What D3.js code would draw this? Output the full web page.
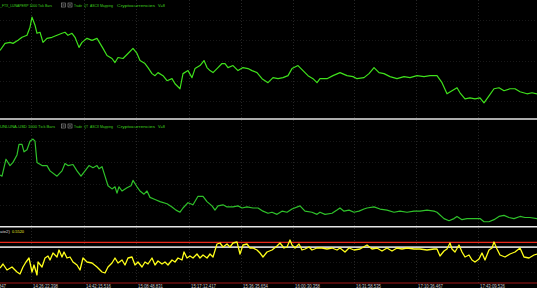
<!DOCTYPE html>
<html>
<head>
<meta charset="utf-8">
<script src="https://cdn.jsdelivr.net/npm/d3@7"></script>
<style>
    html, body { margin: 0; padding: 0; background: #000; overflow: hidden; }
    svg { display: block; }
</style>
</head>
<body>
<div id="chart"></div>
<script>
// FTX_LUNAPERP 1000 tick bars (bar number, close).
var ftxBars = [0,5,10,13,18,22,27,30,32,35,37,40,43,47,52,57,62,65,68,72,75,79,82,87,92,97,100,103,107,112,115,118,123,128,133,137,140,145,148,152,155,158,163,167,172,175,180,183,188,192,195,200,204,207,210,213,217,222,225,228,233,238,243,248,252,257,262,268,273,278,283,288,292,298,303,308,313,317,320,327,333,340,347,353,357,364,369,374,379,384,390,397,404,410,417,424,430,437,442,447,452,457,460,465,470,475,480,484,489,494,499,504,510,515,520,527,532,537];
var ftxClose = [87.50,87.85,87.90,87.85,88.00,88.15,88.25,88.65,89.15,88.75,88.35,88.40,87.90,88.10,88.15,88.25,88.35,88.40,88.25,88.35,88.15,87.65,87.90,88.10,88.00,88.10,87.85,87.60,87.25,87.10,86.90,87.15,87.10,87.35,87.60,87.35,87.00,86.85,86.65,86.35,86.25,86.40,86.25,86.00,86.10,85.85,85.60,86.35,86.50,86.15,86.60,86.75,87.00,86.65,86.50,86.40,86.60,86.85,86.85,86.65,86.75,86.50,86.65,86.60,86.50,86.40,86.10,85.90,86.15,86.10,86.15,86.25,86.60,86.75,86.50,86.25,86.10,85.90,86.10,86.10,86.25,86.40,86.25,86.20,86.10,86.15,86.35,86.65,86.40,86.35,86.20,86.10,86.20,86.15,86.25,86.20,86.25,86.25,85.90,85.35,85.50,85.65,85.40,85.10,85.15,85.10,85.15,84.90,85.25,85.60,85.65,85.50,85.60,85.60,85.45,85.35,85.40,85.35];

// LUNA-USD 1000 tick bars (bar number, close).
var usdBars = [0,2,6,10,13,17,19,22,24,27,30,33,35,37,42,47,50,57,62,65,68,73,77,81,85,89,93,97,99,102,105,108,112,115,117,119,122,127,131,133,137,140,144,147,150,155,160,167,172,176,180,183,188,193,198,203,207,212,215,218,223,227,233,238,242,247,253,258,263,268,272,277,282,287,292,300,305,312,317,320,325,332,337,340,344,349,354,359,364,367,374,380,387,394,400,407,414,420,427,434,437,444,449,454,457,462,467,472,477,480,484,489,494,499,504,509,514,520,525,530,537];
var usdClose = [87.40,87.35,88.15,87.85,88.00,88.35,88.85,88.85,88.50,88.60,89.00,89.10,89.00,88.00,87.85,87.85,87.60,87.35,87.60,87.95,87.85,87.90,87.60,87.35,87.60,87.85,87.75,87.85,87.70,87.80,87.35,86.90,86.75,86.85,86.55,86.85,86.65,86.80,86.90,87.15,86.85,86.65,86.50,86.65,86.35,86.25,86.15,86.05,85.90,85.75,85.65,85.85,86.10,86.00,86.40,86.40,86.15,85.95,85.75,85.95,86.00,85.90,85.90,85.95,85.85,85.90,85.85,85.85,85.70,85.60,85.65,85.55,85.70,85.65,85.80,85.95,85.70,85.65,85.55,85.65,85.55,85.60,85.75,85.85,85.70,85.75,85.65,85.70,85.80,85.85,85.90,85.80,85.75,85.65,85.70,85.65,85.70,85.70,85.75,85.70,85.65,85.35,85.25,85.35,85.45,85.30,85.35,85.35,85.35,85.35,85.20,85.20,85.30,85.45,85.50,85.40,85.35,85.45,85.40,85.40,85.35];

// Correlate2 indicator (bar number, value) and its two levels.
var corrBars = [0,3,7,12,17,20,23,26,29,32,34,37,38,42,45,48,50,53,57,59,62,64,67,70,73,77,80,83,87,92,97,102,105,108,112,115,118,122,125,128,132,135,138,142,145,148,152,155,158,162,165,168,172,175,178,182,184,187,190,193,197,200,203,207,210,213,217,220,223,227,230,233,237,240,243,247,250,253,257,260,263,267,272,277,280,284,287,290,292,295,299,302,305,309,312,317,322,327,332,337,340,345,349,354,360,367,372,377,382,387,392,397,402,407,414,420,427,434,437,440,444,447,450,452,455,459,462,465,469,472,475,479,482,485,489,492,494,497,500,505,510,515,520,524,529,534,537];
var corrValue = [0.350,0.450,0.300,0.375,0.250,0.200,0.375,0.500,0.600,0.250,0.425,0.175,0.500,0.375,0.600,0.650,0.550,0.725,0.625,0.800,0.625,0.750,0.600,0.625,0.500,0.425,0.300,0.600,0.500,0.475,0.375,0.250,0.225,0.375,0.475,0.600,0.475,0.550,0.425,0.600,0.625,0.425,0.500,0.375,0.500,0.450,0.600,0.425,0.525,0.450,0.500,0.425,0.550,0.500,0.600,0.550,0.750,0.600,0.650,0.600,0.700,0.600,0.675,0.600,0.700,0.625,0.950,0.975,0.875,0.950,0.875,0.975,1.000,0.700,0.925,0.950,0.850,0.850,0.800,0.725,0.625,0.750,0.800,0.900,0.975,0.850,0.875,1.050,0.925,0.850,0.950,0.800,0.825,0.875,0.800,0.850,0.850,0.825,0.850,0.800,0.850,0.750,0.850,0.800,0.825,0.925,0.825,0.850,0.775,0.850,0.775,0.850,0.825,0.850,0.825,0.825,0.800,0.825,0.825,0.650,0.775,0.825,0.975,0.825,0.750,0.925,0.750,0.625,0.675,0.550,0.500,0.575,0.725,0.550,0.800,0.850,1.000,0.825,0.675,0.625,0.700,0.750,0.850,0.625,0.600,0.675,0.700];
var corrLevels = [0.99, 0.87];
var corrLast = "0.5520";

// Time axis.
var timeBars = [-21,31,84,136,189,241,293,354,416,478];
var timeLabels = ["14:11:03.847","14:26:22.398","14:42:15.516","15:08:48.831","15:17:12.417","15:36:35.654","16:00:30.358","16:31:58.535","17:10:36.467","17:43:09.526"];

function tickChart(domTarget) {
    var _width = 537;
    var _height = 288;
    var _font = "'Liberation Sans', Arial, sans-serif";

    var _panels = [
        { id: 'p1', top: 0, bottom: 118, domain: [84.15, 90], ticks: [85, 86, 87, 88, 89] },
        { id: 'p2', top: 120, bottom: 226, domain: [85.0, 90.0], ticks: [86, 87, 88, 89] },
        { id: 'p3', top: 228, bottom: 282, domain: [0, 1.35], ticks: [0.25, 0.5] }
    ];

    var x = d3.scaleLinear().domain([0, 537]).range([0, _width]);

    var svg = d3.select(domTarget).append('svg')
        .attr('width', _width)
        .attr('height', _height);

    svg.append('rect').attr('width', _width).attr('height', _height).attr('fill', '#000');

    var defs = svg.append('defs');

    _panels.forEach(function(p) {
        p.y = d3.scaleLinear().domain(p.domain).range([p.bottom, p.top]);
        defs.append('clipPath').attr('id', 'clip-' + p.id)
            .append('rect')
            .attr('x', 0).attr('y', p.top)
            .attr('width', _width).attr('height', p.bottom - p.top);

        // Horizontal dotted grid.
        svg.append('g').selectAll('line')
            .data(p.ticks)
            .enter().append('line')
            .attr('x1', 0).attr('x2', _width)
            .attr('y1', d => Math.round(p.y(d)) + 0.5)
            .attr('y2', d => Math.round(p.y(d)) + 0.5)
            .attr('stroke', '#181818')
            .attr('stroke-dasharray', '1,2');
    });

    // Vertical dotted grid through all panels.
    svg.append('g').selectAll('line')
        .data(timeBars)
        .enter().append('line')
        .attr('x1', d => Math.round(x(d)) + 0.5)
        .attr('x2', d => Math.round(x(d)) + 0.5)
        .attr('y1', 0).attr('y2', 283)
        .attr('stroke', '#262626')
        .attr('stroke-dasharray', '1,2');

    // Panel separators.
    [119, 226.8].forEach(function(yy) {
        svg.append('line')
            .attr('x1', 0).attr('x2', _width)
            .attr('y1', yy).attr('y2', yy)
            .attr('stroke', '#e6e6e6')
            .attr('stroke-width', 1.4);
    });

    function drawLine(p, bars, values, color, width) {
        var line = d3.line()
            .x((d, i) => x(bars[i]))
            .y(d => p.y(d));
        svg.append('path')
            .datum(values)
            .attr('clip-path', 'url(#clip-' + p.id + ')')
            .attr('d', line)
            .attr('fill', 'none')
            .attr('stroke', color)
            .attr('stroke-width', width)
            .attr('stroke-linejoin', 'round');
    }

    // Indicator levels.
    var p3 = _panels[2];
    svg.append('line')
        .attr('x1', 0).attr('x2', _width)
        .attr('y1', p3.y(corrLevels[0])).attr('y2', p3.y(corrLevels[0]))
        .attr('stroke', '#e8281a').attr('stroke-width', 1.2);
    svg.append('line')
        .attr('x1', 0).attr('x2', _width)
        .attr('y1', p3.y(corrLevels[1])).attr('y2', p3.y(corrLevels[1]))
        .attr('stroke', '#cfcfcf').attr('stroke-width', 1.8);

    drawLine(_panels[0], ftxBars, ftxClose, '#3fe01c', 1.2);
    drawLine(_panels[1], usdBars, usdClose, '#2fc22a', 1.2);
    drawLine(p3, corrBars, corrValue, '#ffff1a', 1.3);

    // Bottom axis line and time labels.
    svg.append('line')
        .attr('x1', 0).attr('x2', _width)
        .attr('y1', 283).attr('y2', 283)
        .attr('stroke', '#a01818').attr('stroke-width', 1);

    svg.append('g').selectAll('text')
        .data(timeBars)
        .enter().append('text')
        .attr('x', d => x(d) + 2)
        .attr('y', 287.5)
        .attr('font-family', _font)
        .attr('font-size', 4.5)
        .attr('fill', '#c4c4c4')
        .attr('textLength', 25)
        .attr('lengthAdjust', 'spacingAndGlyphs')
        .text((d, i) => timeLabels[i]);

    // Panel headers.
    function header(yy, parts) {
        var g = svg.append('g');
        parts.forEach(function(t) {
            if (t.box) {
                g.append('rect')
                    .attr('x', t.x + 0.5).attr('y', yy - 3.5)
                    .attr('width', 4).attr('height', 4)
                    .attr('fill', 'none').attr('stroke', '#9a9a9a').attr('stroke-width', 0.6);
                g.append('line')
                    .attr('x1', t.x + 1.5).attr('x2', t.x + 3.5)
                    .attr('y1', yy - 1.5).attr('y2', yy - 1.5)
                    .attr('stroke', '#cfcfcf').attr('stroke-width', 0.6);
                return;
            }
            g.append('text')
                .attr('x', t.x).attr('y', yy)
                .attr('font-family', _font)
                .attr('font-size', 3.8)
                .attr('fill', t.color)
                .attr('textLength', t.w)
                .attr('lengthAdjust', 'spacingAndGlyphs')
                .text(t.text);
        });
    }

    var greenParts = [
        { x: 61, box: true },
        { x: 67.5, box: true },
        { x: 74, w: 8, text: 'Trade', color: '#3fd11f' },
        { x: 84, w: 4, text: 'QT', color: '#3fd11f' },
        { x: 90, w: 23, text: 'ASCII Mapping', color: '#3fd11f' },
        { x: 117, w: 38, text: 'Cryptocurrencies', color: '#3fd11f' },
        { x: 158, w: 7, text: 'V=8', color: '#3fd11f' }
    ];

    header(6.5, [{ x: 0, w: 52, text: '_FTX_LUNAPERP  1000 Tick Bars', color: '#3fd11f' }].concat(greenParts));
    header(127.5, [{ x: 0, w: 55, text: 'UNLUNA-USD  1000 Tick Bars', color: '#3fd11f' }].concat(greenParts));

    header(233, [
        { x: 0, w: 10, text: 'ate2)', color: '#d8d8d8' },
        { x: 12, w: 12, text: corrLast, color: '#e8e820' }
    ]);

    return svg;
}

tickChart(document.getElementById('chart'));
</script>
</body>
</html>
